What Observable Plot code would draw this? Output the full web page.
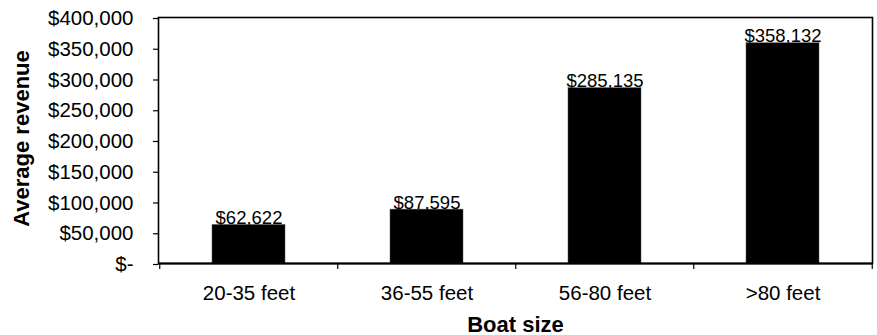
<!DOCTYPE html>
<html>
<head>
<meta charset="utf-8">
<script src="https://cdn.jsdelivr.net/npm/d3@7"></script>
<script src="https://cdn.jsdelivr.net/npm/@observablehq/plot@0.6"></script>
<style>
  html, body { margin: 0; padding: 0; background: #fff; }
  #chart svg { display: block; }
</style>
</head>
<body>
<div id="chart"></div>
<script>
// Average revenue by boat size
const sizes = ["20-35 feet", "36-55 feet", "56-80 feet", ">80 feet"];
const revenue = [62622, 87595, 285135, 358132];
const yTicks = [0, 50000, 100000, 150000, 200000, 250000, 300000, 350000, 400000];
const yLabel = "Average revenue";
const xLabel = "Boat size";

const data = sizes.map((size, i) => ({size, revenue: revenue[i]}));

const width = 877, height = 335;
const marginLeft = 158, marginRight = 5, marginTop = 17, marginBottom = 72;
// bands split the frame evenly (outer padding = half the inner padding)
const step = (width - marginLeft - marginRight) / sizes.length;

const money = d3.format("$,");
const fmt = d => d === 0 ? "$-" : money(d);

const font = "'Liberation Sans', Arial, Helvetica, sans-serif";

const chart = Plot.plot({
  width, height, marginLeft, marginRight, marginTop, marginBottom,
  style: {fontFamily: font, color: "#000", background: "#fff"},
  x: {domain: sizes, paddingInner: 0.59, paddingOuter: 0.295, label: null},
  y: {domain: [0, 400000], label: null},
  marks: [
    Plot.barY(data, {x: "size", y: "revenue", fill: "#000", stroke: "#555", strokeWidth: 0.5}),
    Plot.frame({stroke: "#000", strokeWidth: 1.6}),
    Plot.ruleY([0], {stroke: "#000", strokeWidth: 2.2}),
    // category boundary ticks below the baseline
    Plot.ruleX(sizes, {x: d => d, y1: 0, y2: 0, dx: -step / 2, insetBottom: -6, stroke: "#000", strokeWidth: 1.2}),
    Plot.ruleX(sizes.slice(-1), {x: d => d, y1: 0, y2: 0, dx: step / 2, insetBottom: -6, stroke: "#000", strokeWidth: 1.2}),
    Plot.axisY({ticks: yTicks, tickFormat: fmt, tickSize: 5, tickPadding: 20, fontSize: 20.5, dy: 1, label: null, strokeWidth: 1.2}),
    Plot.axisX({tickSize: 0, tickPadding: 21.5, fontSize: 20.5, label: null}),
    Plot.text(data, {x: "size", y: "revenue", text: d => money(d.revenue), lineAnchor: "bottom", dy: -1, fontSize: 18.5, fill: "#000"}),
    Plot.text([yLabel], {frameAnchor: "left", textAnchor: "middle", lineAnchor: "middle", rotate: -90, dx: -137, dy: -2, fontSize: 22, fontWeight: "bold", fill: "#000"}),
    Plot.text([xLabel], {frameAnchor: "bottom", textAnchor: "middle", lineAnchor: "bottom", dy: 68, fontSize: 22, fontWeight: "bold", fill: "#000"})
  ]
});

document.getElementById("chart").append(chart);
</script>
</body>
</html>
